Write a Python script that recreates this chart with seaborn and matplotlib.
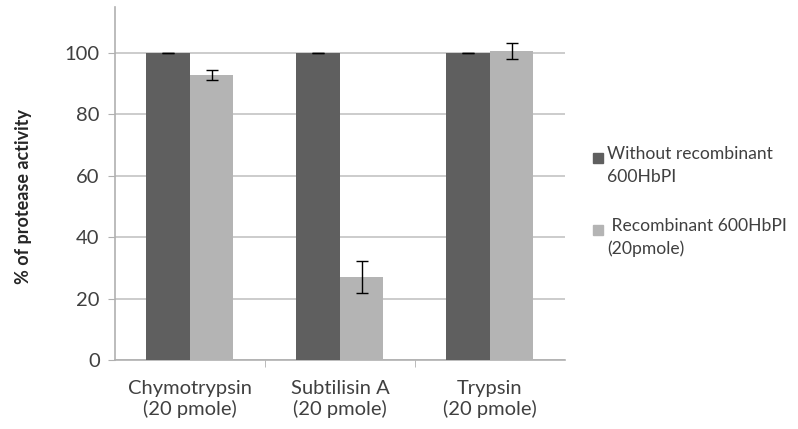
import pandas as pd
import numpy as np
import seaborn as sns
import matplotlib.pyplot as plt
from matplotlib.patches import Rectangle

# values
enzymes = ["Chymotrypsin\n(20 pmole)", "Subtilisin A\n(20 pmole)", "Trypsin\n(20 pmole)"]
groups = ["Without recombinant\n600HbPI", " Recombinant 600HbPI\n(20pmole)"]
without_inh = [100, 100, 100]
without_err = [0, 0, 0]
with_inh = [92.8, 27, 100.6]
with_err = [1.5, 5.2, 2.6]
colors = ["#5f5f5f", "#b4b4b4"]

df = pd.DataFrame({
    "enzyme": enzymes * 2,
    "group": [groups[0]] * 3 + [groups[1]] * 3,
    "activity": without_inh + with_inh,
    "err": without_err + with_err,
})

sns.set_style("white")
plt.rcParams['font.family'] = ['Lato', 'DejaVu Sans']

fig = plt.figure(figsize=(7.98, 4.29), dpi=100)
ax = fig.add_axes([0.144, 0.161, 0.564, 0.823])

sns.barplot(data=df, x="enzyme", y="activity", hue="group",
            palette=colors, width=0.58, gap=0, legend=False,
            errorbar=None, ax=ax, zorder=3, edgecolor="none")

# error bars at the centres of the drawn bars
bar_groups = list(ax.containers)
for i, cont in enumerate(bar_groups):
    errs = df[df["group"] == groups[i]]["err"].tolist()
    for bar, e in zip(cont, errs):
        xc = bar.get_x() + bar.get_width() / 2
        ax.errorbar(xc, bar.get_height(), yerr=e, color="black", lw=1,
                    capsize=4, capthick=1, zorder=4)

ax.set_ylim(0, 115)
ax.set_xlim(-0.5, 2.5)
ax.set_yticks([0, 20, 40, 60, 80, 100])
ax.yaxis.grid(True, color="#c3c3c3", lw=1.2, zorder=0)
ax.set_axisbelow(True)
for s in ["top", "right"]:
    ax.spines[s].set_visible(False)
for s in ["left", "bottom"]:
    ax.spines[s].set_color("#b0b0b0")
    ax.spines[s].set_linewidth(1.2)

ax.tick_params(axis="y", left=True, length=5, color="#b0b0b0", labelsize=14.5,
               labelcolor="#404040", pad=6)
ax.tick_params(axis="x", bottom=False, labelsize=14.5, labelcolor="#404040", pad=11)
ax.set_xticks([0.5, 1.5], minor=True)
ax.tick_params(axis="x", which="minor", bottom=True, length=5, color="#b0b0b0")
ax.set_xlabel("")
ax.set_ylabel("")

fig.text(0.029, 1 - 196 / 429, "% of protease activity", rotation=90,
         fontsize=13, fontweight="bold", ha="center", va="center")

# legend drawn by hand so the swatch sits on the first text line
leg_y = [158, 230]
for col, lab, yy in zip(colors, groups, leg_y):
    fig.patches.append(Rectangle((593 / 798, 1 - (yy + 5) / 429), 10 / 798, 10 / 429,
                                 transform=fig.transFigure, color=col))
    fig.text(607 / 798, 1 - (yy - 12) / 429, lab, fontsize=12.6, color="#404040",
             va="top", ha="left", linespacing=1.5)

fig.savefig("out.png", dpi=100)
